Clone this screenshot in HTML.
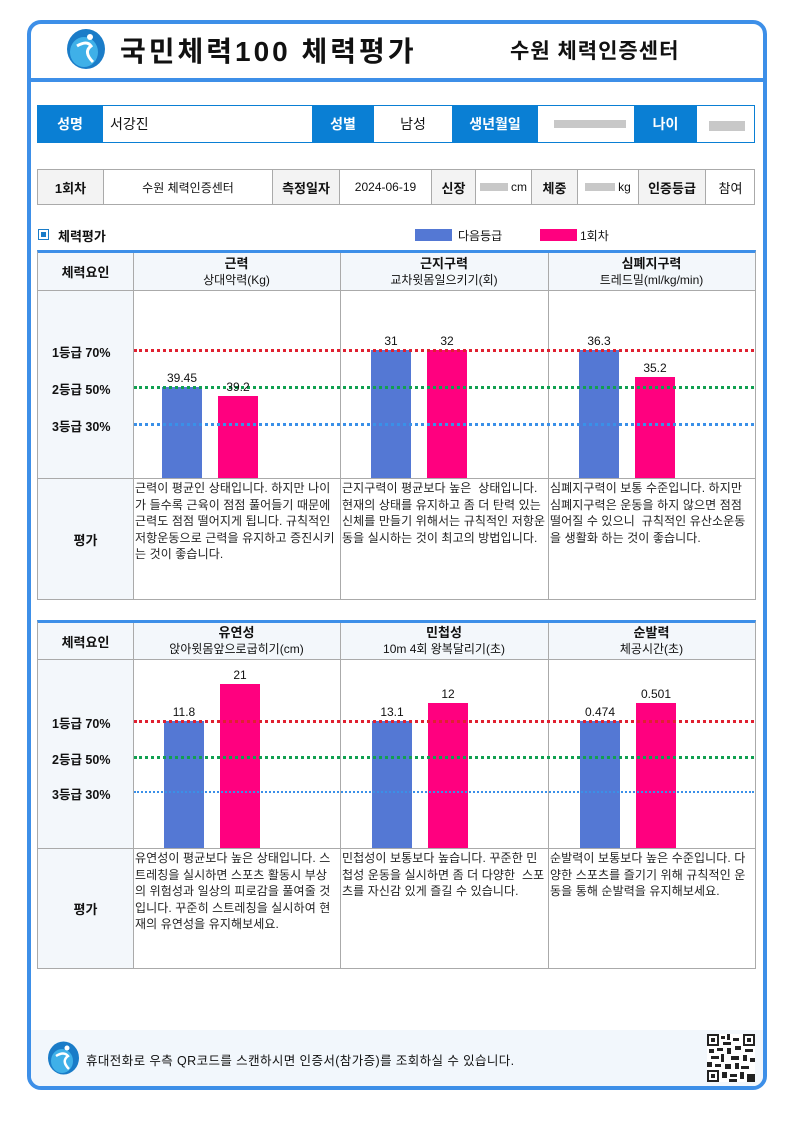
<!DOCTYPE html>
<html><head><meta charset="utf-8"><style>
*{margin:0;padding:0;box-sizing:border-box}
body{width:793px;height:1123px;background:#fff;position:relative;font-family:"Liberation Sans","Noto Sans CJK KR",sans-serif;color:#111;overflow:hidden}
.a{position:absolute}
.c{position:absolute;display:flex;align-items:center;justify-content:center;text-align:center;font-size:13px}
.b{font-weight:bold}
.blue{background:#0a7fd4;color:#fff;font-weight:bold;font-size:14px}
.gr{background:#f3f3f3;font-weight:bold}
.ln{position:absolute;height:0;border-top:3px dotted}
.bar{position:absolute}
.v{position:absolute;width:60px;text-align:center;font-size:12px}
.ev{position:absolute;font-size:12px;line-height:16.5px;padding:1px 2px;color:#222;word-break:break-all;letter-spacing:0.1px}
.gl{position:absolute;font-size:12.5px;font-weight:bold;left:52px}
</style></head><body>
<div class="a" style="left:27px;top:20px;width:740px;height:1070px;border:4px solid #3d8fe8;border-radius:14px"></div>
<div class="a" style="left:29px;top:78px;width:736px;height:4px;background:#3d8fe8"></div>
<svg class="a" style="left:65px;top:28px" width="42" height="42"><ellipse cx="21" cy="21" rx="19" ry="20" fill="#1a7cc8"/><ellipse cx="19" cy="24" rx="14" ry="15" fill="#3fb0e8"/><path d="M12 18 Q22 12 26 18 Q18 24 28 34" stroke="#fff" stroke-width="3" fill="none"/><circle cx="25" cy="9" r="3" fill="#fff"/></svg>
<div class="a b" style="left:120px;top:30px;font-size:28px;letter-spacing:3px;white-space:nowrap">국민체력100 체력평가</div>
<div class="a b" style="left:510px;top:35px;font-size:21px;letter-spacing:1px;white-space:nowrap">수원 체력인증센터</div>

<div class="a" style="left:37px;top:105px;width:718px;height:38px;border:1px solid #0a7fd4"></div>
<div class="c blue" style="left:37px;top:105px;width:66px;height:38px">성명</div>
<div class="c" style="left:110px;top:105px;height:38px;font-size:14px">서강진</div>
<div class="c blue" style="left:312px;top:105px;width:62px;height:38px">성별</div>
<div class="c" style="left:374px;top:105px;width:78px;height:38px;font-size:14px">남성</div>
<div class="c blue" style="left:452px;top:105px;width:86px;height:38px">생년월일</div>
<div class="a" style="left:554px;top:120px;width:72px;height:8px;background:#c8c8c8"></div>
<div class="c blue" style="left:634px;top:105px;width:63px;height:38px">나이</div>
<div class="a" style="left:709px;top:121px;width:36px;height:10px;background:#c8c8c8"></div>

<div class="a" style="left:37px;top:169px;width:718px;height:36px;border:1px solid #aaa"></div>
<div class="c gr" style="left:38px;top:170px;width:65px;height:34px">1회차</div>
<div class="c" style="left:103px;top:170px;width:169px;height:34px;font-size:12px;border-left:1px solid #aaa">수원 체력인증센터</div>
<div class="c gr" style="left:272px;top:170px;width:67px;height:34px;border-left:1px solid #aaa">측정일자</div>
<div class="c" style="left:339px;top:170px;width:92px;height:34px;font-size:12px;border-left:1px solid #aaa">2024-06-19</div>
<div class="c gr" style="left:431px;top:170px;width:44px;height:34px;border-left:1px solid #aaa">신장</div>
<div class="c" style="left:475px;top:170px;width:56px;height:34px;font-size:12px;border-left:1px solid #aaa"><span style="display:inline-block;width:28px;height:8px;background:#c8c8c8;margin-right:3px"></span>cm</div>
<div class="c gr" style="left:531px;top:170px;width:46px;height:34px;border-left:1px solid #aaa">체중</div>
<div class="c" style="left:577px;top:170px;width:61px;height:34px;font-size:12px;border-left:1px solid #aaa"><span style="display:inline-block;width:30px;height:8px;background:#c8c8c8;margin-right:3px"></span>kg</div>
<div class="c gr" style="left:638px;top:170px;width:67px;height:34px;border-left:1px solid #aaa">인증등급</div>
<div class="c" style="left:705px;top:170px;width:50px;height:34px;border-left:1px solid #aaa">참여</div>

<div class="a" style="left:38px;top:229px;width:11px;height:11px;border:1px solid #1a7cc8;background:#fff"><div style="margin:2px;width:5px;height:5px;background:#1a7cc8"></div></div>
<div class="a b" style="left:58px;top:226px;font-size:13px">체력평가</div>
<div class="a" style="left:415px;top:229px;width:37px;height:12px;background:#5478d4"></div>
<div class="a" style="left:458px;top:227px;font-size:12px">다음등급</div>
<div class="a" style="left:540px;top:229px;width:37px;height:12px;background:#ff007f"></div>
<div class="a" style="left:580px;top:227px;font-size:12px">1회차</div>

<!-- table 1 -->
<div class="a" style="left:37px;top:250px;width:719px;height:350px;border:1px solid #aaa;border-top:3px solid #3d8fe8"></div>
<div class="a" style="left:38px;top:253px;width:95px;height:346px;background:#f3f7fb"></div>
<div class="a" style="left:133px;top:253px;width:622px;height:37px;background:#f3f7fb"></div>
<div class="a" style="left:38px;top:290px;width:717px;height:1px;background:#aaa"></div>
<div class="a" style="left:38px;top:478px;width:717px;height:1px;background:#aaa"></div>
<div class="a" style="left:133px;top:253px;width:1px;height:346px;background:#aaa"></div>
<div class="a" style="left:340px;top:253px;width:1px;height:346px;background:#aaa"></div>
<div class="a" style="left:548px;top:253px;width:1px;height:346px;background:#aaa"></div>
<div class="c b" style="left:38px;top:253px;width:95px;height:37px;font-size:13px">체력요인</div>
<div class="c" style="left:133px;top:253px;width:207px;height:37px;flex-direction:column;font-size:12px;line-height:16px"><b style="font-size:13px">근력</b>상대악력(Kg)</div>
<div class="c" style="left:340px;top:253px;width:208px;height:37px;flex-direction:column;font-size:12px;line-height:16px"><b style="font-size:13px">근지구력</b>교차윗몸일으키기(회)</div>
<div class="c" style="left:548px;top:253px;width:207px;height:37px;flex-direction:column;font-size:12px;line-height:16px"><b style="font-size:13px">심폐지구력</b>트레드밀(ml/kg/min)</div>
<div class="gl" style="top:342px">1등급 70%</div>
<div class="gl" style="top:379px">2등급 50%</div>
<div class="gl" style="top:416px">3등급 30%</div>
<div class="bar" style="left:162px;top:387px;width:40px;height:91px;background:#5478d4"></div>
<div class="bar" style="left:218px;top:396px;width:40px;height:82px;background:#ff007f"></div>
<div class="bar" style="left:371px;top:350px;width:40px;height:128px;background:#5478d4"></div>
<div class="bar" style="left:427px;top:350px;width:40px;height:128px;background:#ff007f"></div>
<div class="bar" style="left:579px;top:350px;width:40px;height:128px;background:#5478d4"></div>
<div class="bar" style="left:635px;top:377px;width:40px;height:101px;background:#ff007f"></div>
<div class="ln" style="left:134px;top:349px;width:620px;border-color:#e02030"></div>
<div class="ln" style="left:134px;top:386px;width:620px;border-color:#10a050"></div>
<div class="ln" style="left:134px;top:423px;width:620px;border-color:#3a90e8"></div>
<div class="v" style="left:152px;top:371px">39.45</div>
<div class="v" style="left:208px;top:380px">39.2</div>
<div class="v" style="left:361px;top:334px">31</div>
<div class="v" style="left:417px;top:334px">32</div>
<div class="v" style="left:569px;top:334px">36.3</div>
<div class="v" style="left:625px;top:361px">35.2</div>
<div class="c b" style="left:38px;top:479px;width:95px;height:120px;font-size:13px">평가</div>
<div class="ev" style="left:133px;top:479px;width:207px">근력이 평균인 상태입니다. 하지만 나이가 들수록 근육이 점점 풀어들기 때문에 근력도 점점 떨어지게 됩니다. 규칙적인 저항운동으로 근력을 유지하고 증진시키는 것이 좋습니다.</div>
<div class="ev" style="left:340px;top:479px;width:208px">근지구력이 평균보다 높은 &nbsp;상태입니다. 현재의 상태를 유지하고 좀 더 탄력 있는 신체를 만들기 위해서는 규칙적인 저항운동을 실시하는 것이 최고의 방법입니다.</div>
<div class="ev" style="left:548px;top:479px;width:207px">심폐지구력이 보통 수준입니다. 하지만 심폐지구력은 운동을 하지 않으면 점점 떨어질 수 있으니 &nbsp;규칙적인 유산소운동을 생활화 하는 것이 좋습니다.</div>

<!-- table 2 -->
<div class="a" style="left:37px;top:620px;width:719px;height:349px;border:1px solid #aaa;border-top:3px solid #3d8fe8"></div>
<div class="a" style="left:38px;top:623px;width:95px;height:345px;background:#f3f7fb"></div>
<div class="a" style="left:133px;top:623px;width:622px;height:36px;background:#f3f7fb"></div>
<div class="a" style="left:38px;top:659px;width:717px;height:1px;background:#aaa"></div>
<div class="a" style="left:38px;top:848px;width:717px;height:1px;background:#aaa"></div>
<div class="a" style="left:133px;top:623px;width:1px;height:345px;background:#aaa"></div>
<div class="a" style="left:340px;top:623px;width:1px;height:345px;background:#aaa"></div>
<div class="a" style="left:548px;top:623px;width:1px;height:345px;background:#aaa"></div>
<div class="c b" style="left:38px;top:623px;width:95px;height:36px;font-size:13px">체력요인</div>
<div class="c" style="left:133px;top:623px;width:207px;height:36px;flex-direction:column;font-size:12px;line-height:16px"><b style="font-size:13px">유연성</b>앉아윗몸앞으로굽히기(cm)</div>
<div class="c" style="left:340px;top:623px;width:208px;height:36px;flex-direction:column;font-size:12px;line-height:16px"><b style="font-size:13px">민첩성</b>10m 4회 왕복달리기(초)</div>
<div class="c" style="left:548px;top:623px;width:207px;height:36px;flex-direction:column;font-size:12px;line-height:16px"><b style="font-size:13px">순발력</b>체공시간(초)</div>
<div class="gl" style="top:713px">1등급 70%</div>
<div class="gl" style="top:749px">2등급 50%</div>
<div class="gl" style="top:784px">3등급 30%</div>
<div class="bar" style="left:164px;top:721px;width:40px;height:127px;background:#5478d4"></div>
<div class="bar" style="left:220px;top:684px;width:40px;height:164px;background:#ff007f"></div>
<div class="bar" style="left:372px;top:721px;width:40px;height:127px;background:#5478d4"></div>
<div class="bar" style="left:428px;top:703px;width:40px;height:145px;background:#ff007f"></div>
<div class="bar" style="left:580px;top:721px;width:40px;height:127px;background:#5478d4"></div>
<div class="bar" style="left:636px;top:703px;width:40px;height:145px;background:#ff007f"></div>
<div class="ln" style="left:134px;top:720px;width:620px;border-color:#e02030"></div>
<div class="ln" style="left:134px;top:756px;width:620px;border-color:#10a050"></div>
<div class="ln" style="left:134px;top:791px;border-top-width:2px;width:620px;border-color:#3a90e8"></div>
<div class="v" style="left:154px;top:705px">11.8</div>
<div class="v" style="left:210px;top:668px">21</div>
<div class="v" style="left:362px;top:705px">13.1</div>
<div class="v" style="left:418px;top:687px">12</div>
<div class="v" style="left:570px;top:705px">0.474</div>
<div class="v" style="left:626px;top:687px">0.501</div>
<div class="c b" style="left:38px;top:849px;width:95px;height:119px;font-size:13px">평가</div>
<div class="ev" style="left:133px;top:849px;width:207px">유연성이 평균보다 높은 상태입니다. 스트레칭을 실시하면 스포츠 활동시 부상의 위험성과 일상의 피로감을 풀여줄 것입니다. 꾸준히 스트레칭을 실시하여 현재의 유연성을 유지해보세요.</div>
<div class="ev" style="left:340px;top:849px;width:208px">민첩성이 보통보다 높습니다. 꾸준한 민첩성 운동을 실시하면 좀 더 다양한 &nbsp;스포츠를 자신감 있게 즐길 수 있습니다.</div>
<div class="ev" style="left:548px;top:849px;width:207px">순발력이 보통보다 높은 수준입니다. 다양한 스포츠를 즐기기 위해 규칙적인 운동을 통해 순발력을 유지해보세요.</div>

<!-- footer -->
<div class="a" style="left:31px;top:1030px;width:732px;height:56px;background:#f2f7fc;border-radius:0 0 10px 10px"></div>
<svg class="a" style="left:47px;top:1041px" width="33" height="34"><ellipse cx="16.5" cy="17" rx="15.5" ry="16.5" fill="#1a7cc8"/><ellipse cx="15" cy="20" rx="11" ry="12" fill="#3fb0e8"/><path d="M9 15 Q17 10 21 15 Q14 20 22 28" stroke="#fff" stroke-width="2.5" fill="none"/><circle cx="20" cy="7" r="2.5" fill="#fff"/></svg>
<div class="a" style="left:86px;top:1050px;font-size:12.5px;letter-spacing:0.4px;white-space:nowrap">휴대전화로 우측 QR코드를 스캔하시면 인증서(참가증)를 조회하실 수 있습니다.</div>
<svg class="a" style="left:707px;top:1034px" width="48" height="48" shape-rendering="crispEdges">
<rect width="48" height="48" fill="#fff"/>
<g fill="#222">
<rect x="0" y="0" width="12" height="12"/><rect x="36" y="0" width="12" height="12"/><rect x="0" y="36" width="12" height="12"/>
<rect x="14" y="2" width="4" height="3"/><rect x="20" y="0" width="3" height="6"/><rect x="26" y="4" width="6" height="3"/><rect x="16" y="8" width="8" height="3"/>
<rect x="2" y="15" width="5" height="4"/><rect x="10" y="14" width="6" height="3"/><rect x="20" y="14" width="4" height="6"/><rect x="28" y="12" width="6" height="4"/><rect x="38" y="15" width="8" height="3"/>
<rect x="4" y="22" width="8" height="3"/><rect x="14" y="20" width="3" height="8"/><rect x="24" y="22" width="8" height="4"/><rect x="36" y="21" width="4" height="6"/><rect x="43" y="24" width="5" height="4"/>
<rect x="0" y="28" width="5" height="5"/><rect x="8" y="30" width="6" height="3"/><rect x="18" y="30" width="6" height="5"/><rect x="28" y="29" width="4" height="6"/><rect x="34" y="32" width="8" height="3"/>
<rect x="15" y="38" width="5" height="6"/><rect x="23" y="40" width="7" height="3"/><rect x="33" y="38" width="4" height="7"/><rect x="40" y="40" width="8" height="8"/><rect x="22" y="45" width="8" height="3"/>
</g>
<g fill="#fff"><rect x="2" y="2" width="8" height="8"/><rect x="38" y="2" width="8" height="8"/><rect x="2" y="38" width="8" height="8"/></g>
<g fill="#222"><rect x="4" y="4" width="4" height="4"/><rect x="40" y="4" width="4" height="4"/><rect x="4" y="40" width="4" height="4"/></g>
</svg>
</body></html>
